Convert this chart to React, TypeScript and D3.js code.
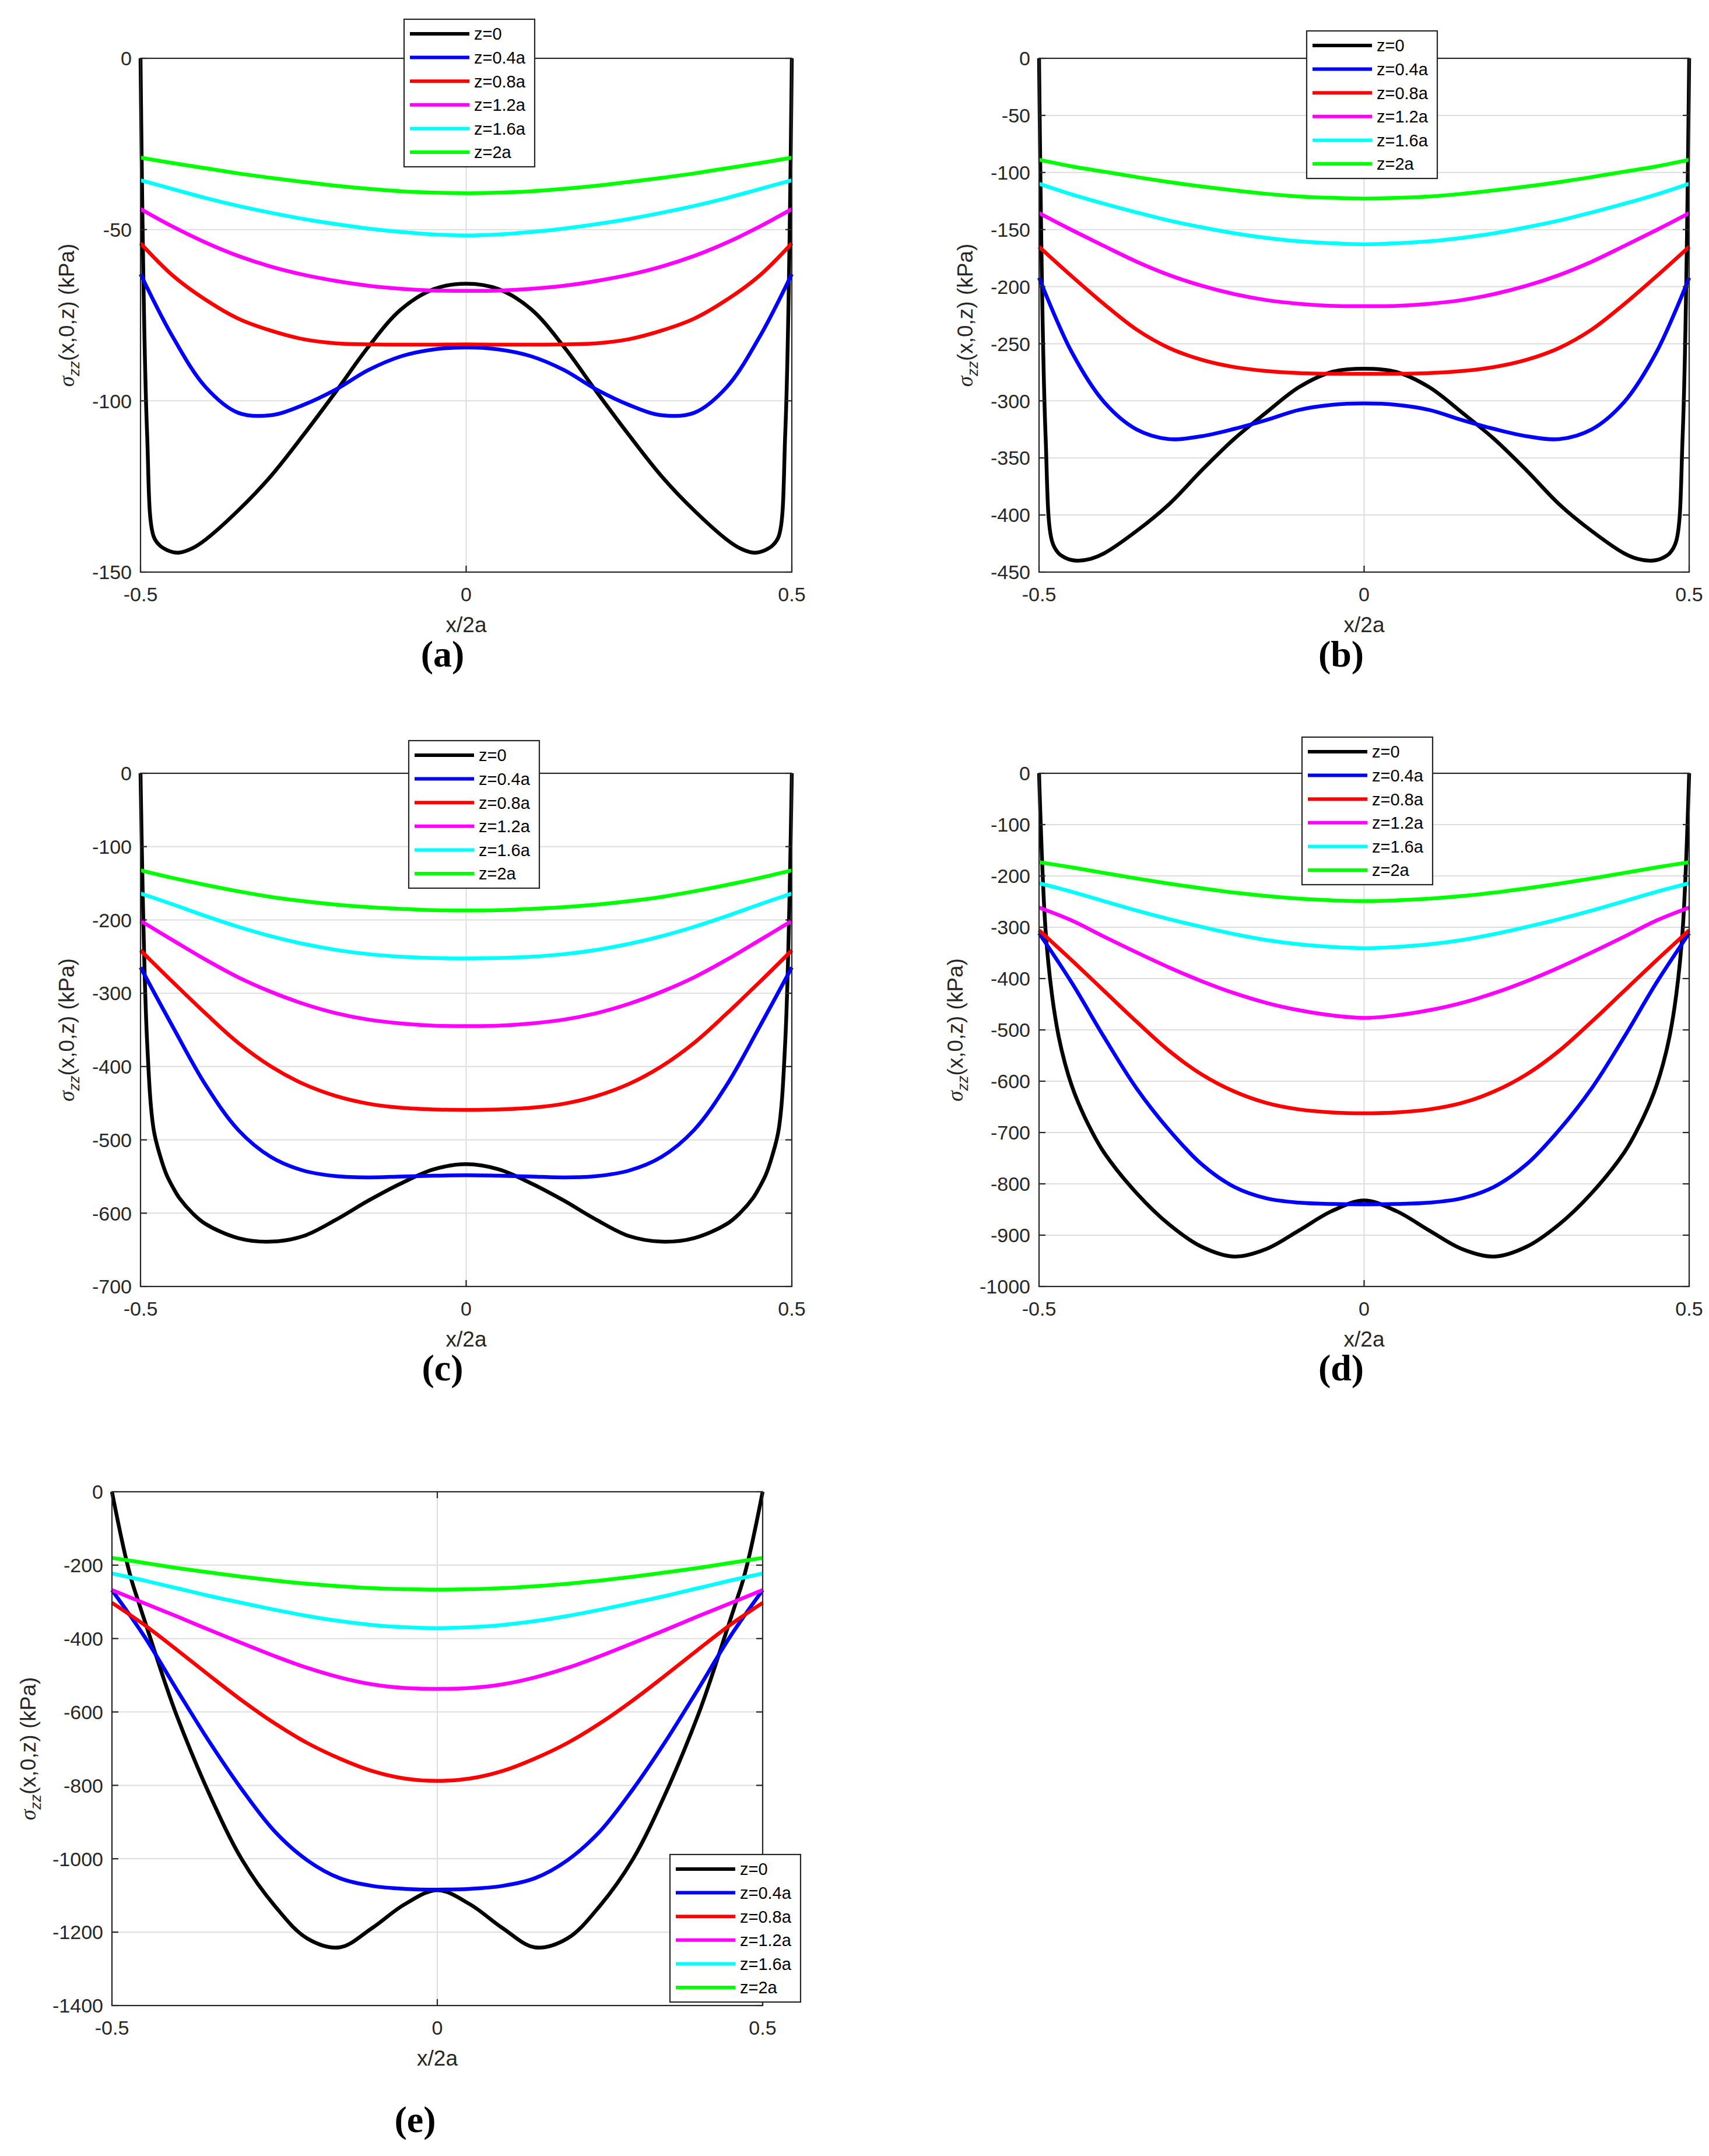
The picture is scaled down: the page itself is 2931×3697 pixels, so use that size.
import * as d3 from "d3";

const W = 2931;
const H = 3697;

// sample positions (x/2a)
const xGrid = [-0.5, -0.45, -0.4, -0.35, -0.3, -0.25, -0.2, -0.15, -0.1, -0.05, 0, 0.05, 0.1, 0.15, 0.2, 0.25, 0.3, 0.35, 0.4, 0.45, 0.5];
const xBlack = [-0.5, -0.49, -0.48, -0.47, -0.46, -0.45, -0.44, -0.42, -0.4, -0.35, -0.3, -0.25, -0.2, -0.15, -0.1, -0.05, 0,
  0.05, 0.1, 0.15, 0.2, 0.25, 0.3, 0.35, 0.4, 0.42, 0.44, 0.45, 0.46, 0.47, 0.48, 0.49, 0.5];
const xTicks = [-0.5, 0, 0.5];

const seriesLabels = ["z=0", "z=0.4a", "z=0.8a", "z=1.2a", "z=1.6a", "z=2a"];
const seriesColors = ["#000000", "#0000ff", "#ff0000", "#ff00ff", "#00ffff", "#00ff00"];

// (a)
const aZ0 = [0, -109, -139.5, -142.3, -143.5, -144.2, -144.3, -143, -140.5, -132, -122, -110, -97.3, -84.2, -73.3, -67.4, -65.8,
  -67.4, -73.3, -84.2, -97.3, -110, -122, -132, -140.5, -143, -144.3, -144.2, -143.5, -142.3, -139.5, -109, 0];
const aZ04 = [-63, -81.5, -96, -103.5, -104.2, -101.2, -96.7, -91, -87, -85, -84.4, -85, -87, -91, -96.7, -101.2, -104.2, -103.5, -96, -81.5, -63];
const aZ08 = [-54, -63.5, -70.5, -76, -79.5, -82, -83.2, -83.5, -83.6, -83.6, -83.5, -83.6, -83.6, -83.5, -83.2, -82, -79.5, -76, -70.5, -63.5, -54];
const aZ12 = [-44, -49.2, -53.8, -57.7, -60.8, -63.2, -65, -66.4, -67.3, -67.8, -67.9, -67.8, -67.3, -66.4, -65, -63.2, -60.8, -57.7, -53.8, -49.2, -44];
const aZ16 = [-35.6, -38.2, -40.8, -43.1, -45.1, -46.9, -48.4, -49.7, -50.7, -51.4, -51.7, -51.4, -50.7, -49.7, -48.4, -46.9, -45.1, -43.1, -40.8, -38.2, -35.6];
const aZ20 = [-29, -30.6, -32.1, -33.6, -34.9, -36.1, -37.2, -38.1, -38.8, -39.2, -39.4, -39.2, -38.8, -38.1, -37.2, -36.1, -34.9, -33.6, -32.1, -30.6, -29];
const aTicks = [-150, -100, -50, 0];

// (b)
const bZ0 = [0, -330, -423, -433.5, -437.4, -439.4, -440, -438.3, -433.6, -414, -390.5, -361, -333.4, -310, -288, -274.8, -271.9,
  -274.8, -288, -310, -333.4, -361, -390.5, -414, -433.6, -438.3, -440, -439.4, -437.4, -433.5, -423, -330, 0];
const bZ04 = [-192.2, -257, -301, -325, -333.5, -331, -324.6, -316.7, -307.9, -303.5, -302.3, -303.5, -307.9, -316.7, -324.6, -331, -333.5, -325, -301, -257, -192.2];
const bZ08 = [-165, -190.7, -215.3, -237.6, -253.7, -264, -270.4, -273.9, -275.7, -276.3, -276.3, -276.3, -275.7, -273.9, -270.4, -264, -253.7, -237.6, -215.3, -190.7, -165];
const bZ12 = [-135.6, -150.3, -164.4, -178.1, -189.8, -199.2, -206.5, -211.8, -215, -216.8, -217.1, -216.8, -215, -211.8, -206.5, -199.2, -189.8, -178.1, -164.4, -150.3, -135.6];
const bZ16 = [-109.9, -119.2, -127.4, -135, -142.1, -148, -153.2, -157.3, -160.3, -162, -162.9, -162, -160.3, -157.3, -153.2, -148, -142.1, -135, -127.4, -119.2, -109.9];
const bZ20 = [-88.8, -94.6, -99.3, -104, -108.4, -112.2, -115.7, -118.7, -121, -122.2, -122.8, -122.2, -121, -118.7, -115.7, -112.2, -108.4, -104, -99.3, -94.6, -88.8];
const bTicks = [-450, -400, -350, -300, -250, -200, -150, -100, -50, 0];

// (c)
const cZ0 = [0, -364, -485, -521.5, -547.7, -565.2, -579.8, -600.2, -614.8, -634, -638.8, -631.2, -609, -582.8, -559.4, -540.2, -533.2,
  -540.2, -559.4, -582.8, -609, -631.2, -638.8, -634, -614.8, -600.2, -579.8, -565.2, -547.7, -521.5, -485, -364, 0];
const cZ04 = [-264.8, -346.5, -425.2, -486.5, -523.2, -541.9, -549.5, -551.2, -550, -548.9, -548.3, -548.9, -550, -551.2, -549.5, -541.9, -523.2, -486.5, -425.2, -346.5, -264.8];
const cZ08 = [-241.5, -285.2, -327.7, -367.7, -399.7, -423.7, -440.2, -450.7, -456.2, -458.5, -459.1, -458.5, -456.2, -450.7, -440.2, -423.7, -399.7, -367.7, -327.7, -285.2, -241.5];
const cZ12 = [-201.2, -228, -254.3, -278.3, -298, -314.4, -327.2, -336, -341.2, -344.2, -344.8, -344.2, -341.2, -336, -327.2, -314.4, -298, -278.3, -254.3, -228, -201.2];
const cZ16 = [-163.9, -179, -194.8, -209.4, -222.2, -232.7, -240.9, -246.7, -250.2, -252, -252.6, -252, -250.2, -246.7, -240.9, -232.7, -222.2, -209.4, -194.8, -179, -163.9];
const cZ20 = [-132.4, -142.9, -152.3, -161, -168.6, -174.4, -179.1, -182.6, -184.9, -186.7, -187.2, -186.7, -184.9, -182.6, -179.1, -174.4, -168.6, -161, -152.3, -142.9, -132.4];
const cTicks = [-700, -600, -500, -400, -300, -200, -100, 0];

// (d)
const dZ0 = [0, -305, -432.5, -511.7, -565.8, -607.5, -640.8, -695, -739, -818, -879, -922.5, -941.7, -926.7, -890.8, -853.3, -832.5,
  -853.3, -890.8, -926.7, -941.7, -922.5, -879, -818, -739, -695, -640.8, -607.5, -565.8, -511.7, -432.5, -305, 0];
const dZ04 = [-311.7, -407.5, -514, -614, -695, -761.7, -805.8, -828.3, -836.7, -839.2, -840, -839.2, -836.7, -828.3, -805.8, -761.7, -695, -614, -514, -407.5, -311.7];
const dZ08 = [-305.8, -364, -424, -484, -540.8, -586.7, -620, -642.5, -655, -660.8, -662.5, -660.8, -655, -642.5, -620, -586.7, -540.8, -484, -424, -364, -305.8];
const dZ12 = [-261.7, -286.7, -318.3, -349, -378.3, -405, -428.3, -447.5, -461.7, -471.7, -476.7, -471.7, -461.7, -447.5, -428.3, -405, -378.3, -349, -318.3, -286.7, -261.7];
const dZ16 = [-214.2, -230.8, -249.2, -267.5, -284.2, -299.2, -313.3, -325, -333.3, -338.3, -340.8, -338.3, -333.3, -325, -313.3, -299.2, -284.2, -267.5, -249.2, -230.8, -214.2];
const dZ20 = [-173.3, -183.3, -194.2, -205, -215, -224.2, -232.5, -239.2, -244.2, -247.5, -249.2, -247.5, -244.2, -239.2, -232.5, -224.2, -215, -205, -194.2, -183.3, -173.3];
const dTicks = [-1000, -900, -800, -700, -600, -500, -400, -300, -200, -100, 0];

// (e)
const eZ0 = [0, -88, -170, -240, -296, -350, -404, -512, -612, -825, -1003, -1128, -1217, -1241.5, -1188.6, -1123.9, -1085.6,
  -1123.9, -1188.6, -1241.5, -1217, -1128, -1003, -825, -612, -512, -404, -350, -296, -240, -170, -88, 0];
const eZ04 = [-268, -394.7, -540.2, -682.2, -812, -925.2, -1004, -1053, -1074, -1082, -1084, -1082, -1074, -1053, -1004, -925.2, -812, -682.2, -540.2, -394.7, -268];
const eZ08 = [-302.5, -363, -431, -501, -569, -631, -684.5, -727, -761, -781.5, -787.8, -781.5, -761, -727, -684.5, -631, -569, -501, -431, -363, -302.5];
const eZ12 = [-267.8, -303.8, -339.8, -376.8, -412.8, -447.8, -479.8, -505.8, -524.8, -534.8, -537, -534.8, -524.8, -505.8, -479.8, -447.8, -412.8, -376.8, -339.8, -303.8, -267.8];
const eZ16 = [-222.6, -242, -263, -284, -303, -321.5, -338.5, -352.5, -363, -369.2, -371.8, -369.2, -363, -352.5, -338.5, -321.5, -303, -284, -263, -242, -222.6];
const eZ20 = [-180.2, -194, -207.8, -219.8, -231.6, -241.8, -250.6, -257.3, -262.5, -265.5, -266.7, -265.5, -262.5, -257.3, -250.6, -241.8, -231.6, -219.8, -207.8, -194, -180.2];
const eTicks = [-1400, -1200, -1000, -800, -600, -400, -200, 0];

type PanelSpec = {
  tag: string;
  left: number;
  top: number;
  width: number;
  height: number;
  yTicks: number[];
  black: number[];
  smooth: number[][];
  legendX: number;
  legendY: number;
  tagX: number;
  tagY: number;
};

const panels: PanelSpec[] = [
  { tag: "(a)", left: 241, top: 100, width: 1117, height: 881, yTicks: aTicks, black: aZ0,
    smooth: [aZ04, aZ08, aZ12, aZ16, aZ20], legendX: 693, legendY: 33, tagX: 759, tagY: 1143 },
  { tag: "(b)", left: 1782, top: 100, width: 1115, height: 881, yTicks: bTicks, black: bZ0,
    smooth: [bZ04, bZ08, bZ12, bZ16, bZ20], legendX: 2241, legendY: 53, tagX: 2300, tagY: 1143 },
  { tag: "(c)", left: 241, top: 1326, width: 1117, height: 880, yTicks: cTicks, black: cZ0,
    smooth: [cZ04, cZ08, cZ12, cZ16, cZ20], legendX: 701, legendY: 1270, tagX: 759, tagY: 2367 },
  { tag: "(d)", left: 1782, top: 1326, width: 1115, height: 880, yTicks: dTicks, black: dZ0,
    smooth: [dZ04, dZ08, dZ12, dZ16, dZ20], legendX: 2233, legendY: 1264, tagX: 2300, tagY: 2367 },
  { tag: "(e)", left: 192, top: 2558, width: 1116, height: 881, yTicks: eTicks, black: eZ0,
    smooth: [eZ04, eZ08, eZ12, eZ16, eZ20], legendX: 1149, legendY: 3180, tagX: 712, tagY: 3656 },
];

const AXIS = "#262626";
const GRID = "#dedede";
const TICK_FS = 34;
const LABEL_FS = 37;
const LEGEND_FS = 29;

function Panel({ p }: { p: PanelSpec }) {
  const right = p.left + p.width;
  const bottom = p.top + p.height;
  const yMin = d3.min(p.yTicks) as number;
  const x = d3.scaleLinear().domain([-0.5, 0.5]).range([p.left, right]);
  const y = d3.scaleLinear().domain([yMin, 0]).range([bottom, p.top]);
  const line = d3
    .line<number[]>()
    .x((d) => x(d[0]))
    .y((d) => y(d[1]))
    .curve(d3.curveCatmullRom.alpha(0.5));

  const series = [d3.zip(xBlack, p.black), ...p.smooth.map((v) => d3.zip(xGrid, v))];
  const maxLen = d3.max(p.yTicks, (t) => String(t).length) as number;
  const yLabelCx = p.left - (59 + 17 * maxLen);
  const yLabelCy = (p.top + bottom) / 2;
  const tickLen = 11;

  return (
    <g>
      {/* grid */}
      {p.yTicks.map((t) => (
        <line key={"gy" + t} x1={p.left} x2={right} y1={y(t)} y2={y(t)} stroke={GRID} strokeWidth={2} />
      ))}
      <line x1={x(0)} x2={x(0)} y1={p.top} y2={bottom} stroke={GRID} strokeWidth={2} />

      {/* data */}
      {series.map((pts, i) => (
        <path
          key={"s" + i}
          d={line(pts) || ""}
          fill="none"
          stroke={seriesColors[i]}
          strokeWidth={6.5}
          strokeLinejoin="round"
        />
      ))}

      {/* box + ticks */}
      <rect x={p.left} y={p.top} width={p.width} height={p.height} fill="none" stroke={AXIS} strokeWidth={2.2} />
      {p.yTicks.map((t) => (
        <g key={"ty" + t}>
          <line x1={p.left} x2={p.left + tickLen} y1={y(t)} y2={y(t)} stroke={AXIS} strokeWidth={2.2} />
          <line x1={right} x2={right - tickLen} y1={y(t)} y2={y(t)} stroke={AXIS} strokeWidth={2.2} />
          <text
            x={p.left - 15}
            y={y(t)}
            dy="0.36em"
            textAnchor="end"
            fontSize={TICK_FS}
            fill={AXIS}
            fontFamily="'Liberation Sans', Arial, sans-serif"
          >
            {String(t)}
          </text>
        </g>
      ))}
      {xTicks.map((t) => (
        <g key={"tx" + t}>
          <line x1={x(t)} x2={x(t)} y1={bottom} y2={bottom - tickLen} stroke={AXIS} strokeWidth={2.2} />
          <line x1={x(t)} x2={x(t)} y1={p.top} y2={p.top + tickLen} stroke={AXIS} strokeWidth={2.2} />
          <text
            x={x(t)}
            y={bottom + 50}
            textAnchor="middle"
            fontSize={TICK_FS}
            fill={AXIS}
            fontFamily="'Liberation Sans', Arial, sans-serif"
          >
            {String(t)}
          </text>
        </g>
      ))}

      {/* axis labels */}
      <text
        x={x(0)}
        y={bottom + 103}
        textAnchor="middle"
        fontSize={LABEL_FS}
        fill={AXIS}
        fontFamily="'Liberation Sans', Arial, sans-serif"
      >
        x/2a
      </text>
      <text
        transform={`translate(${yLabelCx + 13},${yLabelCy}) rotate(-90)`}
        textAnchor="middle"
        fontSize={LABEL_FS}
        fill={AXIS}
        fontFamily="'Liberation Sans', Arial, sans-serif"
      >
        <tspan fontStyle="italic" fontFamily="'Liberation Serif', serif">σ</tspan>
        <tspan fontStyle="italic" fontSize={26} dy={9}>zz</tspan>
        <tspan dy={-9}>(x,0,z) (kPa)</tspan>
      </text>

      {/* panel tag */}
      <text
        x={p.tagX}
        y={p.tagY}
        textAnchor="middle"
        fontSize={64}
        fontWeight="bold"
        fill="#000"
        fontFamily="'Liberation Serif', 'Times New Roman', serif"
      >
        {p.tag}
      </text>

      {/* legend */}
      <g transform={`translate(${p.legendX},${p.legendY})`}>
        <rect x={0} y={0} width={224} height={253} fill="#fff" stroke={AXIS} strokeWidth={2.2} />
        {seriesLabels.map((lab, i) => (
          <g key={lab} transform={`translate(0,${25 + i * 40.6})`}>
            <line x1={10} x2={112} y1={0} y2={0} stroke={seriesColors[i]} strokeWidth={6} />
            <text
              x={120}
              y={0}
              dy="0.36em"
              fontSize={LEGEND_FS}
              fill="#000"
              fontFamily="'Liberation Sans', Arial, sans-serif"
            >
              {lab}
            </text>
          </g>
        ))}
      </g>
    </g>
  );
}

export default function App() {
  return (
    <svg
      width={W}
      height={H}
      viewBox={`0 0 ${W} ${H}`}
      style={{ position: "absolute", left: 0, top: 0, background: "#fff" }}
    >
      <rect x={0} y={0} width={W} height={H} fill="#fff" />
      {panels.map((p) => (
        <Panel key={p.tag} p={p} />
      ))}
    </svg>
  );
}
